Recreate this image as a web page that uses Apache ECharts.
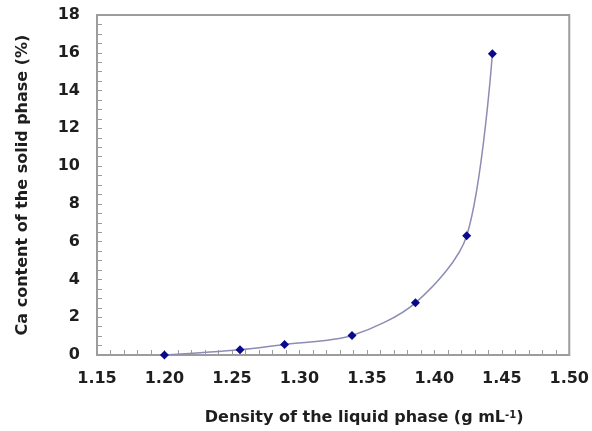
<!DOCTYPE html>
<html lang="en">
<head>
    <meta charset="UTF-8">
    <title>Ca content vs density</title>
    <script src="https://cdn.jsdelivr.net/npm/echarts@6/dist/echarts.min.js"></script>
    <style>
        html, body { margin: 0; padding: 0; background: #fff; }
        #chart { width: 592px; height: 431px; }
    </style>
</head>
<body>
    <div id="chart"></div>
    <script>
        // values
        var density = [1.200, 1.256, 1.289, 1.339, 1.386, 1.424, 1.443];
        var caContent = [0.00, 0.28, 0.56, 1.03, 2.76, 6.31, 15.95];
        var xTicks = { min: 1.15, max: 1.50, step: 0.05 };
        var yTicks = { min: 0, max: 18, step: 2 };

        var points = density.map(function (d, i) { return [d, caContent[i]]; });

        var axisGray = '#9c9c9c';
        var textColor = '#1e1e1e';
        var font = 'DejaVu Sans, sans-serif';

        var chart = echarts.init(document.getElementById('chart'));
        var option = {
            animation: false,
            grid: {
                left: 97, right: 14, top: 15, bottom: 73,
                show: true,
                borderColor: axisGray,
                borderWidth: 2,
                backgroundColor: '#fff'
            },
            xAxis: {
                type: 'value',
                min: xTicks.min,
                max: xTicks.max,
                interval: xTicks.step,
                name: 'Density of the liquid phase (g mL{sup|-1})',
                nameLocation: 'middle',
                nameGap: 55,
                nameTextStyle: {
                    color: textColor, fontFamily: font, fontWeight: 'bold', fontSize: 16,
                    padding: [0, 0, 0, 62],
                    rich: {
                        sup: { fontSize: 10, fontWeight: 'bold', fontFamily: font, color: textColor, verticalAlign: 'top', padding: [0, 0, 6, 0] }
                    }
                },
                axisLine: { show: true, lineStyle: { color: axisGray, width: 2 } },
                axisTick: { show: true, inside: true, length: 5, lineStyle: { color: axisGray } },
                minorTick: { show: true, splitNumber: 5, length: 5, lineStyle: { color: axisGray } },
                splitLine: { show: false },
                axisLabel: {
                    margin: 16, color: textColor, fontFamily: font, fontWeight: 'bold', fontSize: 16,
                    formatter: function (v) { return v.toFixed(2); }
                }
            },
            yAxis: {
                type: 'value',
                min: yTicks.min,
                max: yTicks.max,
                interval: yTicks.step,
                name: 'Ca content of the solid phase (%)',
                nameLocation: 'middle',
                nameGap: 66,
                nameTextStyle: { color: textColor, fontFamily: font, fontWeight: 'bold', fontSize: 16 },
                axisLine: { show: true, lineStyle: { color: axisGray, width: 2 } },
                axisTick: { show: true, inside: true, length: 5, lineStyle: { color: axisGray } },
                minorTick: { show: true, splitNumber: 4, length: 5, lineStyle: { color: axisGray } },
                splitLine: { show: false },
                axisLabel: { margin: 17, color: textColor, fontFamily: font, fontWeight: 'bold', fontSize: 16 }
            },
            series: [{
                type: 'line',
                data: points,
                smooth: 0.3,
                symbol: 'diamond',
                symbolSize: 9,
                itemStyle: { color: '#0a0a8c' },
                lineStyle: { color: '#8c8cb4', width: 1.5 }
            }]
        };
        chart.setOption(option);
    </script>
</body>
</html>
